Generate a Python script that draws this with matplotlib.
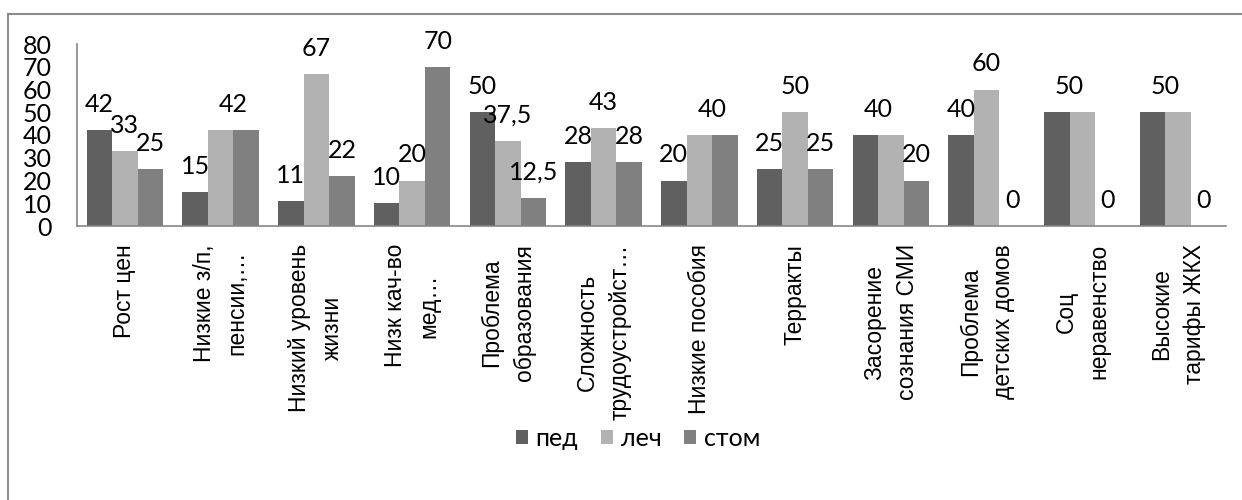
import matplotlib
matplotlib.use('Agg')
import matplotlib.pyplot as plt
from matplotlib.lines import Line2D
import numpy as np

# Survey data: share of answers per problem, by faculty
categories = [
    'Рост цен',
    'Низкие з/п,\nпенсии,…',
    'Низкий уровень\nжизни',
    'Низк кач-во\nмед…',
    'Проблема\nобразования',
    'Сложность\nтрудоустройст…',
    'Низкие пособия',
    'Терракты',
    'Засорение\nсознания СМИ',
    'Проблема\nдетских домов',
    'Соц\nнеравенство',
    'Высокие\nтарифы ЖКХ',
]
ped = [42, 15, 11, 10, 50, 28, 20, 25, 40, 40, 50, 50]
lech = [33, 42, 67, 20, 37.5, 43, 40, 50, 40, 60, 50, 50]
stom = [25, 42, 22, 70, 12.5, 28, 40, 25, 20, 0, 0, 0]

series_names = ['пед', 'леч', 'стом']
colors = ['#606060', '#b2b2b2', '#808080']

num_font = ['Lato', 'DejaVu Sans']

fig = plt.figure(figsize=(12.42, 5), dpi=100)
ax = fig.add_axes([77 / 1242, 1 - 226 / 500, (1226 - 77) / 1242, (226 - 44) / 500])

x = np.arange(len(categories))
width = 0.8 / 3
series = [ped, lech, stom]
offsets = [-width, 0, width]

bars = []
for vals, off, col, name in zip(series, offsets, colors, series_names):
    b = ax.bar(x + off, vals, width, color=col, label=name, edgecolor='none')
    bars.append(b)


def fmt(v):
    s = f'{v:g}'
    return s.replace('.', ',')


# value labels; equal neighbouring bars share one label placed between them
for i in range(len(categories)):
    vals = [s[i] for s in series]
    j = 0
    while j < 3:
        xs = [x[i] + offsets[j]]
        k = j
        while k + 1 < 3 and vals[k + 1] == vals[j]:
            k += 1
            xs.append(x[i] + offsets[k])
        ax.annotate(fmt(vals[j]), (np.mean(xs), vals[j]), xytext=(0, 13),
                    textcoords='offset points', ha='center', va='baseline',
                    fontsize=18, family=num_font, color='black')
        j = k + 1

ax.set_xlim(-0.5, len(categories) - 0.5)
ax.set_ylim(0, 80)
ax.set_yticks(range(0, 81, 10))
ax.set_yticklabels([str(v) for v in range(0, 81, 10)], family=num_font, fontsize=18)
ax.tick_params(axis='y', length=0, pad=18)
ax.tick_params(axis='x', length=0, pad=13)
ax.set_xticks(x)
ax.set_xticklabels(categories, rotation=90, ha='center', va='top',
                   multialignment='center', linespacing=1.55,
                   family=['Liberation Sans', 'DejaVu Sans'], fontsize=16.5)

for side in ['top', 'right']:
    ax.spines[side].set_visible(False)
for side in ['left', 'bottom']:
    ax.spines[side].set_color('#868686')
    ax.spines[side].set_linewidth(1.2)

leg = fig.legend(handles=bars, labels=series_names, loc='center',
                 bbox_to_anchor=(638 / 1242, 1 - 438 / 500), ncol=3,
                 frameon=False, prop={'family': num_font, 'size': 18},
                 handlelength=0.5, handleheight=0.5, handletextpad=0.3,
                 columnspacing=0.9)

# chart frame
fig.add_artist(Line2D([8 / 1242, 1], [1 - 14 / 500, 1 - 14 / 500],
                      transform=fig.transFigure, color='#8c8c8c', lw=1.5))
fig.add_artist(Line2D([8 / 1242, 8 / 1242], [0, 1 - 14 / 500],
                      transform=fig.transFigure, color='#8c8c8c', lw=1.5))

fig.savefig('out.png', dpi=100, facecolor='white')
